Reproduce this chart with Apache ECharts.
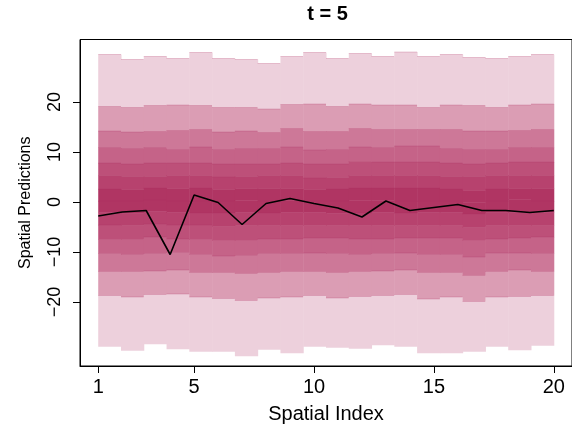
<!DOCTYPE html>
<html>
<head>
<meta charset="utf-8">
<script src="https://cdn.jsdelivr.net/npm/echarts@6/dist/echarts.min.js"></script>
<style>
  html, body { margin: 0; padding: 0; background: #fff; }
  #chart { width: 572px; height: 429px; }
</style>
</head>
<body>
<div id="chart"></div>
<script>
// Spatial index 1..20
const spatialIndex = [1,2,3,4,5,6,7,8,9,10,11,12,13,14,15,16,17,18,19,20];

// Quantile band boundaries, from the top (upper outer) down to the bottom (lower outer)
const bound01 = [29.5, 28.5, 29.1, 28.7, 29.9, 28.7, 28.5, 27.7, 29.1, 29.9, 28.7, 29.7, 29.1, 30.0, 29.1, 29.5, 28.9, 28.7, 29.1, 29.5];
const bound02 = [19.1, 18.9, 19.3, 19.4, 19.3, 18.9, 18.9, 18.6, 19.5, 19.6, 19.1, 19.6, 19.4, 19.4, 18.9, 19.4, 19.3, 18.9, 19.4, 19.6];
const bound03 = [14.2, 14.0, 14.1, 14.3, 14.5, 14.0, 14.2, 13.9, 14.7, 14.1, 14.1, 14.7, 14.5, 14.5, 14.5, 14.5, 14.2, 14.2, 14.3, 14.5];
const bound04 = [10.9, 10.7, 10.9, 10.5, 11.0, 10.5, 10.7, 10.7, 11.0, 10.4, 10.5, 11.0, 10.9, 11.2, 11.2, 10.7, 10.5, 10.5, 10.9, 10.9];
const bound05 = [7.8, 7.6, 7.8, 7.8, 7.8, 7.6, 7.6, 7.6, 7.8, 7.6, 7.6, 8.1, 8.0, 8.0, 8.0, 7.8, 7.6, 7.8, 8.0, 8.0];
const bound06 = [5.3, 5.1, 5.1, 5.3, 5.3, 5.0, 5.1, 5.3, 5.3, 4.8, 4.9, 5.3, 5.3, 5.3, 5.3, 5.1, 5.1, 5.3, 5.3, 5.3];
const bound07 = [2.6, 2.5, 2.8, 2.7, 2.8, 2.5, 2.7, 2.7, 2.7, 2.5, 2.6, 2.8, 2.8, 2.8, 2.8, 2.6, 2.3, 2.6, 2.7, 2.7];
const bound08 = [0.2, 0.2, 0.4, 0.2, 0.2, 0.2, 0.3, 0.2, 0.3, 0.2, 0.2, 0.3, 0.3, 0.2, 0.2, 0.2, -0.1, 0.2, 0.5, 0.2];
const bound09 = [-2.1, -2.3, -1.9, -2.1, -2.2, -2.2, -2.1, -2.2, -2.1, -2.1, -2.3, -2.2, -2.1, -2.2, -2.1, -2.1, -2.4, -2.1, -2.1, -2.1];
const bound10 = [-4.6, -4.7, -4.4, -4.6, -4.6, -4.9, -4.7, -4.7, -4.7, -4.7, -4.7, -4.7, -4.7, -4.7, -4.7, -4.7, -5.1, -4.7, -4.7, -4.7];
const bound11 = [-7.5, -7.5, -7.0, -7.4, -7.5, -7.7, -7.7, -7.4, -7.4, -7.2, -7.2, -7.4, -7.4, -7.2, -7.2, -7.2, -7.7, -7.4, -7.2, -7.0];
const bound12 = [-10.3, -10.5, -10.3, -10.1, -10.5, -10.8, -10.7, -10.3, -10.3, -10.2, -10.3, -10.5, -10.3, -10.2, -10.5, -10.5, -11.0, -10.2, -10.2, -10.3];
const bound13 = [-13.9, -13.9, -13.8, -13.6, -14.1, -14.1, -14.3, -14.1, -13.9, -13.9, -14.1, -13.9, -13.8, -13.6, -14.1, -14.1, -14.7, -13.9, -13.6, -13.9];
const bound14 = [-18.7, -19.0, -18.5, -18.4, -19.0, -19.3, -19.7, -19.2, -19.0, -18.7, -19.2, -18.9, -18.7, -18.5, -19.4, -19.0, -19.9, -19.0, -18.9, -18.7];
const bound15 = [-28.9, -29.7, -28.4, -29.4, -29.9, -29.9, -30.8, -29.5, -30.2, -28.9, -29.1, -29.3, -28.6, -28.9, -30.2, -30.2, -29.9, -28.9, -29.6, -28.7];

// Black line (observed / point prediction)
const lineValues = [-2.8, -2.0, -1.7, -10.5, 1.4, -0.1, -4.5, -0.3, 0.7, -0.3, -1.2, -3.0, 0.2, -1.7, -1.1, -0.5, -1.7, -1.7, -2.1, -1.7];

// Tick labels
const xTicks = [1, 5, 10, 15, 20];
const yTicks = [-20, -10, 0, 10, 20];

const bounds = [bound01, bound02, bound03, bound04, bound05, bound06, bound07, bound08,
                bound09, bound10, bound11, bound12, bound13, bound14, bound15];

// Band colours, outer (light) to inner (dark)
const palette = ['#edd0dc', '#db9db4', '#cd7898', '#c56388', '#bd5079', '#b7426e', '#b03563'];
const bandColour = k => palette[k < 7 ? k : 13 - k];

const n = spatialIndex.length;
const xFirst = spatialIndex[0], xLast = spatialIndex[n - 1];
const step = (xLast - xFirst) / n;

const rects = [];
for (let i = 0; i < n; i++) {
  for (let k = 0; k < bounds.length - 1; k++) {
    rects.push([xFirst + i * step, xFirst + (i + 1) * step, bounds[k + 1][i], bounds[k][i], k]);
  }
}

const FONT = "'Liberation Sans', Arial, Helvetica, sans-serif";
const minus = v => String(v).replace('-', '\u2212');
const chart = echarts.init(document.getElementById('chart'), null, { renderer: 'canvas' });

chart.setOption({
  animation: false,
  backgroundColor: '#fff',
  textStyle: { fontFamily: FONT },
  grid: {
    left: 80, top: 39.5, width: 495, height: 331,
    show: true, borderColor: '#000', borderWidth: 1, backgroundColor: 'transparent'
  },
  graphic: [{
    type: 'text', x: 327.5, y: 14, z: 100,
    style: { text: 't = 5', align: 'center', verticalAlign: 'middle',
             font: 'bold 20px ' + FONT, fill: '#000' }
  }],
  xAxis: {
    type: 'value', min: 0.24, max: 20.76,
    axisLine: { show: true, onZero: false, lineStyle: { color: '#000', width: 1 } },
    axisTick: { show: true, customValues: xTicks, length: 7, lineStyle: { color: '#000' } },
    axisLabel: { show: true, customValues: xTicks, fontSize: 20, color: '#000', margin: 11, fontFamily: FONT },
    splitLine: { show: false },
    name: 'Spatial Index', nameLocation: 'middle', nameGap: 38,
    nameTextStyle: { fontSize: 20, color: '#000', fontFamily: FONT }
  },
  yAxis: {
    type: 'value', min: -32.8, max: 32.5,
    axisLine: { show: true, onZero: false, lineStyle: { color: '#000', width: 1 } },
    axisTick: { show: true, customValues: yTicks, length: 7, lineStyle: { color: '#000' } },
    axisLabel: { show: true, customValues: yTicks, rotate: 90, fontSize: 18, color: '#000', margin: 16,
                 fontFamily: FONT, formatter: minus },
    splitLine: { show: false },
    name: 'Spatial Predictions', nameLocation: 'middle', nameRotate: 90, nameGap: 46,
    nameTextStyle: { fontSize: 16, color: '#000', fontFamily: FONT }
  },
  series: [
    {
      type: 'custom',
      data: rects,
      clip: true,
      encode: { x: [0, 1], y: [2, 3] },
      renderItem: function (params, api) {
        const p1 = api.coord([api.value(0), api.value(3)]);
        const p2 = api.coord([api.value(1), api.value(2)]);
        const w = p2[0] - p1[0];
        return {
          type: 'group',
          children: [
            {
              type: 'rect',
              shape: { x: p1[0], y: p1[1], width: w + 0.5, height: p2[1] - p1[1] + 0.3 },
              style: { fill: bandColour(api.value(4)) }
            },
            {
              type: 'line',
              shape: { x1: p1[0], y1: p1[1], x2: p1[0] + w, y2: p1[1] },
              style: { stroke: 'rgba(170,40,90,0.3)', lineWidth: 0.8 }
            }
          ]
        };
      }
    },
    {
      type: 'line',
      data: spatialIndex.map((x, i) => [x, lineValues[i]]),
      symbol: 'none',
      lineStyle: { color: '#000', width: 1.6 },
      z: 10
    }
  ]
});
</script>
</body>
</html>
